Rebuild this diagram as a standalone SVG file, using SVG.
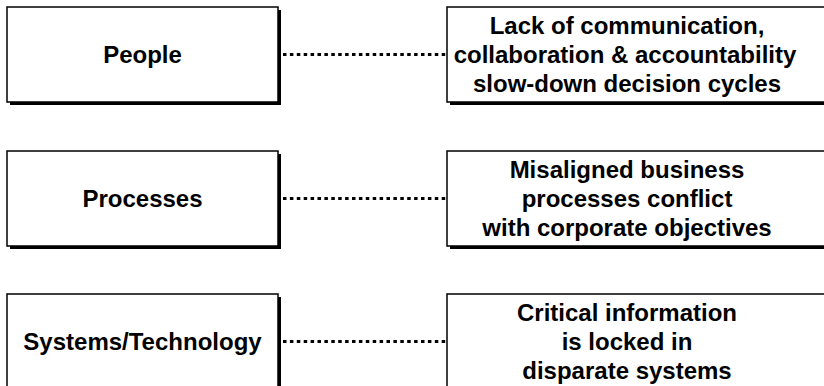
<svg xmlns="http://www.w3.org/2000/svg" width="824" height="386" viewBox="0 0 824 386">
<defs>
<style>
.sh{fill:#000}
.bx{fill:#fff;stroke:#000;stroke-width:1.5}
.t{font-family:"Liberation Sans",Arial,sans-serif;font-weight:bold;font-size:24px;fill:#000;text-anchor:middle}
.dl{stroke:#000;stroke-width:3;stroke-dasharray:3.5 3.4;fill:none}
</style>
</defs>
<rect width="824" height="386" fill="#fff"/>
<g id="connectors">
<line class="dl" x1="283" y1="54.5" x2="446" y2="54.5"/>
<line class="dl" x1="283" y1="198.5" x2="446" y2="198.5"/>
<line class="dl" x1="283" y1="341.5" x2="446" y2="341.5"/>
</g>
<g id="people">
<rect class="sh" x="10" y="10" width="271" height="95"/>
<rect class="bx" x="7" y="7" width="271" height="95"/>
<text class="t" x="142.5" y="63">People</text>
</g>
<g id="processes">
<rect class="sh" x="10" y="154" width="271" height="95"/>
<rect class="bx" x="7" y="151" width="271" height="95"/>
<text class="t" x="142.5" y="207">Processes</text>
</g>
<g id="systems">
<rect class="sh" x="10" y="297" width="271" height="95"/>
<rect class="bx" x="7" y="294" width="271" height="95"/>
<text class="t" x="142.5" y="350">Systems/Technology</text>
</g>
<g id="issue-people">
<rect class="sh" x="450" y="10" width="390" height="95"/>
<rect class="bx" x="447" y="7" width="390" height="95"/>
<text class="t" x="627" y="34">Lack of communication,</text>
<text class="t" x="625" y="63">collaboration &amp; accountability</text>
<text class="t" x="627" y="92">slow-down decision cycles</text>
</g>
<g id="issue-processes">
<rect class="sh" x="450" y="154" width="390" height="95"/>
<rect class="bx" x="447" y="151" width="390" height="95"/>
<text class="t" x="627" y="178">Misaligned business</text>
<text class="t" x="627" y="207">processes conflict</text>
<text class="t" x="627" y="236">with corporate objectives</text>
</g>
<g id="issue-systems">
<rect class="sh" x="450" y="297" width="390" height="95"/>
<rect class="bx" x="447" y="294" width="390" height="95"/>
<text class="t" x="627" y="321">Critical information</text>
<text class="t" x="627" y="350">is locked in</text>
<text class="t" x="627" y="379">disparate systems</text>
</g>
</svg>
